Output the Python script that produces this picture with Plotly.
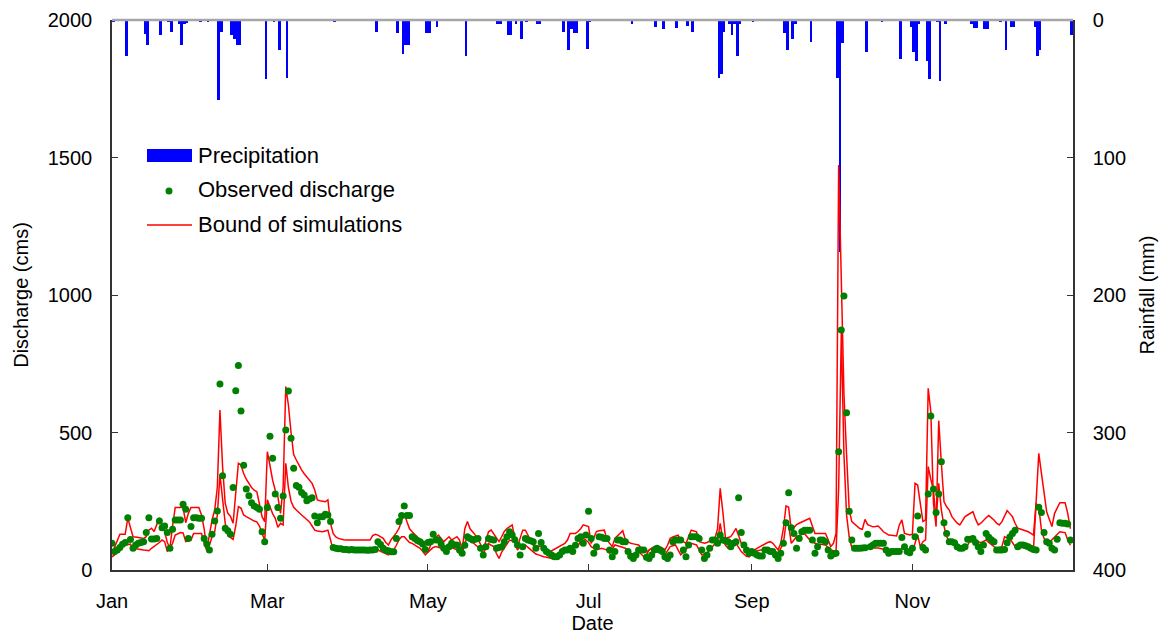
import plotly.graph_objects as go
import pandas as pd

# ---------------- data ----------------
obs_jan = [97, 67, 73, 82, 94, 100, 190, 111, 79, 91, 97, 100, 103, 136, 190, 113, 113, 115, 178, 154, 160, 136, 79, 148, 182, 182, 182, 239, 221, 115, 158]
obs_feb = [190, 190, 188, 188, 115, 95, 73, 130, 178, 215, 676, 343, 152, 143, 130, 300, 652, 744, 578, 381, 295, 270, 245, 233, 227, 221, 139, 103]
obs_mar = [227, 486, 406, 276, 227, 188, 269, 509, 651, 479, 370, 307, 301, 282, 273, 252, 258, 263, 196, 172, 194, 194, 203, 200, 176, 82, 79, 77, 77, 75, 75]
obs_apr = [73, 75, 73, 73, 73, 73, 73, 72, 73, 73, 75, 103, 93, 79, 72, 70, 66, 66, 115, 176, 198, 233, 198, 198, 121, 115, 107, 103, 95, 75]
obs_may = [100, 103, 130, 109, 109, 95, 79, 67, 85, 97, 91, 91, 73, 61, 90, 121, 115, 109, 112, 115, 79, 55, 85, 115, 111, 109, 79, 82, 85, 103, 121]
obs_jun = [139, 127, 110, 91, 55, 85, 115, 109, 106, 103, 79, 133, 100, 79, 67, 61, 55, 48, 48, 55, 67, 73, 73, 79, 67, 90, 115, 121, 97, 127]
obs_jul = [214, 115, 61, 85, 121, 119, 115, 115, 73, 48, 67, 109, 109, 103, 103, 67, 50, 42, 55, 73, 73, 73, 46, 42, 55, 73, 79, 73, 67, 48, 42]
obs_aug = [55, 103, 109, 109, 109, 73, 48, 91, 121, 121, 121, 115, 73, 42, 55, 79, 109, 109, 97, 127, 109, 106, 103, 85, 97, 103, 263, 136, 91, 73, 61]
obs_sep = [67, 61, 55, 51, 51, 73, 73, 67, 67, 55, 42, 61, 97, 172, 281, 154, 133, 79, 115, 139, 145, 145, 145, 109, 61, 85, 109, 109, 103, 73]
obs_oct = [51, 58, 61, 430, 873, 996, 572, 214, 109, 79, 79, 79, 80, 81, 130, 85, 91, 97, 97, 97, 97, 73, 61, 67, 67, 67, 67, 118, 85, 67, 63]
obs_nov = [79, 121, 196, 146, 82, 73, 276, 560, 295, 209, 276, 394, 172, 133, 103, 103, 99, 85, 79, 79, 85, 112, 112, 115, 100, 85, 67, 91, 133, 119]
obs_dec = [110, 103, 73, 73, 73, 75, 99, 120, 133, 145, 85, 91, 91, 88, 85, 79, 75, 73, 228, 209, 136, 103, 97, 79, 73, 112, 172, 170, 170, 167, 109]

low_jan = [48, 55, 66, 79, 88, 91, 93, 94, 79, 77, 75, 74, 73, 72, 70, 79, 85, 91, 100, 109, 103, 67, 82, 97, 127, 132, 136, 135, 103, 106, 109]
low_feb = [133, 133, 133, 133, 100, 70, 90, 121, 139, 200, 346, 260, 170, 125, 118, 111, 160, 230, 225, 200, 194, 188, 183, 178, 175, 160, 133, 109]
low_mar = [255, 230, 205, 188, 155, 170, 164, 388, 300, 250, 228, 218, 208, 200, 192, 185, 175, 160, 145, 142, 140, 139, 142, 145, 109, 73, 72, 71, 70, 70, 69]
low_apr = [68, 68, 67, 67, 66, 66, 65, 65, 64, 68, 70, 73, 68, 64, 60, 55, 62, 73, 90, 110, 121, 121, 110, 100, 97, 90, 85, 79, 68, 55]
low_may = [65, 73, 82, 85, 82, 79, 82, 85, 85, 80, 77, 73, 60, 55, 100, 115, 109, 100, 91, 82, 75, 61, 80, 97, 90, 85, 60, 42, 65, 79, 95]
low_jun = [109, 106, 103, 73, 85, 88, 91, 82, 73, 65, 58, 55, 51, 48, 46, 44, 42, 48, 55, 60, 65, 67, 73, 79, 82, 84, 85, 109, 115, 109]
low_jul = [100, 85, 80, 73, 76, 79, 76, 73, 61, 75, 91, 88, 85, 82, 79, 70, 61, 58, 55, 67, 57, 48, 55, 73, 79, 85, 80, 73, 64, 55, 70]
low_aug = [85, 88, 91, 73, 55, 64, 73, 85, 97, 94, 91, 73, 55, 58, 61, 73, 85, 95, 103, 170, 109, 90, 79, 88, 97, 97, 80, 67, 58, 50, 48]
low_sep = [64, 67, 69, 71, 73, 76, 79, 76, 73, 67, 61, 79, 97, 170, 164, 97, 109, 121, 125, 129, 133, 121, 109, 103, 97, 95, 94, 93, 91, 82]
low_oct = [73, 70, 67, 300, 862, 420, 200, 120, 80, 78, 77, 76, 76, 78, 85, 82, 80, 80, 80, 78, 76, 73, 70, 68, 66, 65, 70, 80, 75, 68, 62]
low_nov = [67, 100, 127, 85, 103, 110, 376, 330, 291, 182, 315, 218, 160, 121, 105, 97, 103, 95, 85, 88, 90, 91, 109, 108, 107, 103, 99, 104, 109, 100]
low_dec = [91, 85, 79, 82, 85, 121, 117, 112, 100, 85, 87, 89, 91, 88, 85, 82, 79, 242, 230, 146, 115, 103, 99, 110, 121, 130, 139, 137, 136, 109, 90]

up_jan = [60, 85, 110, 130, 130, 130, 188, 150, 121, 120, 119, 117, 115, 121, 145, 152, 140, 165, 190, 160, 140, 100, 80, 160, 227, 227, 227, 227, 172, 206, 227]
up_feb = [227, 227, 227, 200, 150, 73, 130, 182, 218, 300, 582, 376, 242, 206, 195, 170, 280, 388, 382, 351, 330, 315, 300, 290, 285, 240, 194, 176]
up_mar = [430, 380, 327, 290, 267, 206, 300, 667, 600, 500, 420, 400, 380, 364, 350, 339, 325, 315, 291, 255, 252, 250, 248, 255, 170, 133, 120, 115, 112, 110, 109]
up_apr = [109, 109, 109, 109, 109, 109, 109, 109, 109, 125, 130, 127, 120, 115, 100, 91, 110, 121, 135, 151, 180, 206, 176, 150, 139, 130, 120, 112, 100, 75]
up_may = [67, 90, 109, 118, 127, 115, 103, 112, 121, 109, 115, 121, 109, 73, 150, 176, 150, 140, 127, 112, 95, 73, 105, 139, 145, 130, 115, 103, 121, 140, 151]
up_jun = [158, 164, 115, 85, 115, 145, 145, 127, 110, 90, 86, 87, 85, 83, 75, 67, 70, 75, 79, 85, 91, 97, 109, 133, 133, 133, 140, 150, 164, 160]
up_jul = [158, 97, 120, 140, 143, 144, 145, 109, 95, 85, 115, 125, 135, 143, 109, 103, 97, 95, 93, 91, 80, 73, 67, 72, 79, 85, 85, 85, 80, 73, 90]
up_aug = [115, 120, 125, 127, 110, 103, 97, 120, 145, 142, 139, 103, 100, 97, 100, 105, 109, 115, 150, 297, 212, 115, 118, 121, 135, 151, 125, 97, 85, 70, 55]
up_sep = [73, 73, 79, 85, 91, 97, 100, 103, 97, 85, 73, 97, 150, 233, 228, 145, 155, 165, 170, 175, 179, 184, 188, 160, 133, 133, 133, 133, 133, 110]
up_oct = [85, 97, 133, 1473, 1050, 640, 420, 218, 176, 168, 160, 151, 148, 184, 165, 160, 157, 158, 160, 150, 139, 133, 127, 126, 125, 124, 163, 182, 133, 130, 127]
up_nov = [130, 315, 309, 242, 176, 182, 661, 576, 242, 158, 543, 388, 249, 230, 218, 194, 180, 170, 164, 180, 194, 200, 206, 212, 185, 164, 170, 182, 190, 198]
up_dec = [190, 182, 170, 164, 176, 196, 216, 205, 194, 170, 152, 149, 146, 142, 139, 133, 127, 249, 424, 352, 280, 212, 185, 158, 206, 225, 245, 245, 245, 206, 150]

rain_days = [0, 5, 12, 13, 18, 21, 22, 25, 26, 27, 28, 33, 36, 40, 41, 45, 46, 47, 48, 58, 61, 63, 66, 84,
             100, 108, 110, 111, 112, 119, 120, 123, 134, 146, 147, 150, 151, 153, 155, 157, 161, 162, 171,
             173, 174, 175, 176, 180, 181, 197, 206, 209, 214, 218, 220, 230, 231, 232, 234, 235, 236, 237,
             238, 243, 255, 256, 258, 259, 265, 275, 276, 277, 286, 292, 299, 303, 304, 305, 306, 309, 310,
             313, 314, 316, 326, 327, 328, 331, 332, 337, 339, 341, 342, 350, 351, 352, 364]
rain_mm = [1.5, 26, 10, 18, 11, 1.5, 8.6, 3, 18, 3, 2, 1.5, 1.5, 58, 9, 10.7, 14, 18, 18, 43, 1.5, 21.6, 42, 1.5,
           8.7, 9.2, 25, 18, 18, 9.2, 9.2, 5, 26.4, 3, 3, 10.7, 10.7, 3, 14, 1.5, 3, 3, 9,
           21.6, 6.8, 9.2, 9.2, 20.8, 1.5, 3, 4.8, 6.8, 5.5, 4.6, 8.7, 42, 39, 8.7, 3, 10.7, 3, 26.4,
           3, 1.5, 9.2, 21.6, 14, 3, 16, 42, 169, 17, 23, 1.5, 28, 5, 23, 30, 3, 30, 43,
           1.5, 44, 3, 3, 5.5, 5.5, 6.8, 6.8, 1.5, 21.6, 5, 5, 5, 26.4, 21.6, 10.7]

tick_dates = ['2001-01-01', '2001-03-01', '2001-05-01', '2001-07-01', '2001-09-01', '2001-11-01']
tick_text = ['Jan', 'Mar', 'May', 'Jul', 'Sep', 'Nov']

obs = obs_jan + obs_feb + obs_mar + obs_apr + obs_may + obs_jun + obs_jul + obs_aug + obs_sep + obs_oct + obs_nov + obs_dec
low = low_jan + low_feb + low_mar + low_apr + low_may + low_jun + low_jul + low_aug + low_sep + low_oct + low_nov + low_dec
up = up_jan + up_feb + up_mar + up_apr + up_may + up_jun + up_jul + up_aug + up_sep + up_oct + up_nov + up_dec

dates = pd.date_range('2001-01-01', periods=len(obs), freq='D')
rain_dates = [dates[d] + pd.Timedelta(hours=12) for d in rain_days]

FONT = 'Liberation Sans, Arial, sans-serif'
W, H = 1169, 636
L, R, T, B = 112, 96, 20, 66
PW, PH = W - L - R, H - T - B


def px(xp):
    return (xp - L) / PW


def py(yp):
    return (H - B - yp) / PH


fig = go.Figure()
fig.add_trace(go.Bar(x=rain_dates, y=rain_mm, yaxis='y', width=86400000,
                     marker=dict(color='#0000ff', line=dict(width=0)), showlegend=False))
fig.add_trace(go.Scatter(x=dates, y=up, yaxis='y2', mode='lines',
                         line=dict(color='#ff0000', width=1.5), showlegend=False))
fig.add_trace(go.Scatter(x=dates, y=low, yaxis='y2', mode='lines',
                         line=dict(color='#ff0000', width=1.5), showlegend=False))
fig.add_trace(go.Scatter(x=dates, y=obs, yaxis='y2', mode='markers',
                         marker=dict(color='#008000', size=7), showlegend=False))

axis_col = '#333333'
fig.update_layout(
    width=W, height=H,
    margin=dict(l=L, r=R, t=T, b=B, pad=0),
    paper_bgcolor='white', plot_bgcolor='white',
    font=dict(family=FONT, size=20, color='black'),
    bargap=0,
    xaxis=dict(type='date', range=['2001-01-01', '2002-01-01'], automargin=False,
               tickvals=tick_dates, ticktext=tick_text,
               ticks='inside', ticklen=6, tickcolor=axis_col, tickwidth=1,
               showline=True, linecolor=axis_col, linewidth=1.5,
               showgrid=False, zeroline=False, ticklabelstandoff=12,
               title=dict(text='Date', standoff=0, font=dict(size=20))),
    yaxis=dict(range=[400, 0], side='right', tickvals=[0, 100, 200, 300, 400], automargin=False,
               ticks='inside', ticklen=6, tickcolor=axis_col,
               showline=True, linecolor=axis_col, linewidth=1.5,
               showgrid=False, zeroline=False, ticklabelstandoff=14,
               title=dict(text='Rainfall (mm)', standoff=15, font=dict(size=20))),
    yaxis2=dict(range=[0, 2000], side='left', overlaying='y', tickvals=[0, 500, 1000, 1500, 2000],
                automargin=False,
                ticks='inside', ticklen=6, tickcolor=axis_col,
                showline=True, linecolor=axis_col, linewidth=1.5,
                showgrid=False, zeroline=False, ticklabelstandoff=14,
                title=dict(text='Discharge (cms)', standoff=14, font=dict(size=20))),
)

# top border
fig.add_shape(type='line', xref='paper', yref='paper', x0=0, x1=1, y0=1, y1=1,
              line=dict(color='#a6a6a6', width=2.5), layer='above')

# manual legend
fig.add_shape(type='rect', xref='paper', yref='paper', x0=px(147), x1=px(192), y0=py(162), y1=py(149),
              fillcolor='#0000ff', line=dict(width=0))
fig.add_shape(type='circle', xref='paper', yref='paper', x0=px(165.5), x1=px(172.5), y0=py(194.5), y1=py(187.5),
              fillcolor='#008000', line=dict(width=0))
fig.add_shape(type='line', xref='paper', yref='paper', x0=px(147), x1=px(192), y0=py(225), y1=py(225),
              line=dict(color='#ff0000', width=1.5))
for label, yy in [('Precipitation', 155), ('Observed discharge', 189), ('Bound of simulations', 225)]:
    fig.add_annotation(text=label, xref='paper', yref='paper', x=px(196), y=py(yy),
                       xanchor='left', yanchor='middle', showarrow=False,
                       font=dict(family=FONT, size=22, color='black'))

fig.write_html('out.html')
